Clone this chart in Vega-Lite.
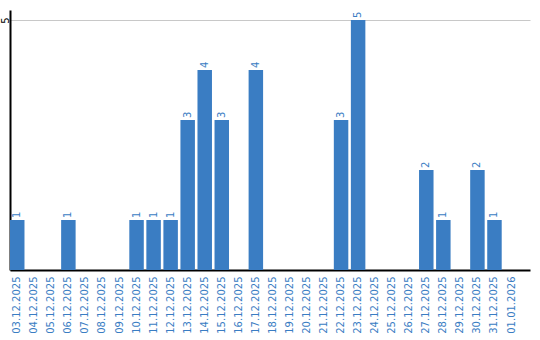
{
  "$schema": "https://vega.github.io/schema/vega-lite/v6.json",
  "autosize": "none",
  "width": 520,
  "height": 260,
  "padding": {"left": 10, "top": 10, "right": 10, "bottom": 70},
  "background": "white",
  "config": {"view": {"stroke": null}, "font": "DejaVu Sans"},
  "data": {"values": [
    {"date": "03.12.2025", "n": 1},
    {"date": "04.12.2025", "n": 0},
    {"date": "05.12.2025", "n": 0},
    {"date": "06.12.2025", "n": 1},
    {"date": "07.12.2025", "n": 0},
    {"date": "08.12.2025", "n": 0},
    {"date": "09.12.2025", "n": 0},
    {"date": "10.12.2025", "n": 1},
    {"date": "11.12.2025", "n": 1},
    {"date": "12.12.2025", "n": 1},
    {"date": "13.12.2025", "n": 3},
    {"date": "14.12.2025", "n": 4},
    {"date": "15.12.2025", "n": 3},
    {"date": "16.12.2025", "n": 0},
    {"date": "17.12.2025", "n": 4},
    {"date": "18.12.2025", "n": 0},
    {"date": "19.12.2025", "n": 0},
    {"date": "20.12.2025", "n": 0},
    {"date": "21.12.2025", "n": 0},
    {"date": "22.12.2025", "n": 3},
    {"date": "23.12.2025", "n": 5},
    {"date": "24.12.2025", "n": 0},
    {"date": "25.12.2025", "n": 0},
    {"date": "26.12.2025", "n": 0},
    {"date": "27.12.2025", "n": 2},
    {"date": "28.12.2025", "n": 1},
    {"date": "29.12.2025", "n": 0},
    {"date": "30.12.2025", "n": 2},
    {"date": "31.12.2025", "n": 1},
    {"date": "01.01.2026", "n": 0}
  ]},
  "encoding": {
    "x": {
      "field": "date", "type": "ordinal", "sort": null,
      "scale": {"paddingInner": 0.15, "paddingOuter": 0.33, "align": 0},
      "axis": {"title": null, "labelAngle": -90, "labelColor": "#3a7dc3", "labelFontSize": 10, "ticks": false, "labelPadding": 6, "domainColor": "#000000", "domainWidth": 2, "labelAlign": "right", "labelBaseline": "middle"}
    },
    "y": {
      "field": "n", "type": "quantitative",
      "scale": {"domain": [0, 5.2], "nice": false, "zero": true},
      "axis": {"title": null, "values": [5], "labelAngle": -90, "labelColor": "#000000", "labelFontSize": 10, "ticks": false, "labelPadding": 2, "domainColor": "#000000", "domainWidth": 2, "gridColor": "#c8c8c8", "gridWidth": 1, "labelAlign": "center", "labelBaseline": "alphabetic"}
    }
  },
  "layer": [
    {"mark": {"type": "bar", "color": "#3a7dc3"}},
    {"transform": [{"filter": "datum.n > 0"}], "mark": {"type": "text", "angle": 270, "align": "left", "baseline": "middle", "dx": 2, "color": "#3a7dc3", "fontSize": 10}, "encoding": {"text": {"field": "n", "type": "quantitative"}}}
  ]
}
